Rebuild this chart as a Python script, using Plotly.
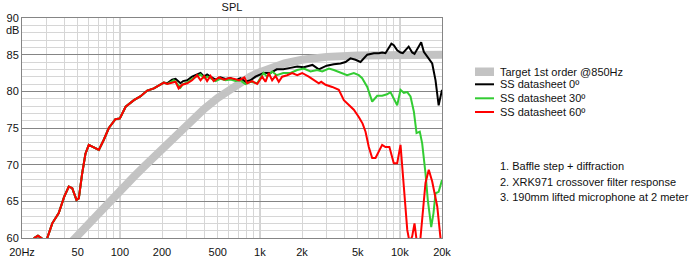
import plotly.graph_objects as go

# ---------------- data ----------------
target_f = [40, 50, 60, 70, 80, 100, 125, 150, 200, 250, 300, 400, 500, 600, 700,
            850, 1000, 1200, 1500, 2000, 3000, 5000, 10000, 20000]
target_db = [58.4, 60.4, 62.0, 63.3, 64.4, 66.4, 68.3, 69.8, 72.2, 74.0, 75.4, 77.6,
             79.1, 80.2, 81.1, 82.0, 82.6, 83.2, 83.8, 84.3, 84.7, 84.9, 85.0, 85.0]

low_f = [20, 23, 24.5, 26, 27.5, 29, 30.3, 32.9, 36.6, 40, 43.2, 45.7, 49.0, 50.9,
         53.8, 56.8, 60.0, 65.2, 70.8, 76.8, 83.4, 93.0, 100, 110, 126, 140, 157,
         175, 195, 206]
low_db = [57.5, 59.0, 60.0, 60.3, 60.0, 59.6, 60.0, 62.0, 63.4, 65.6, 67.0, 66.8,
          65.2, 65.4, 68.8, 71.5, 72.7, 72.4, 72.0, 73.4, 75.0, 76.2, 76.3, 77.9,
          78.8, 79.3, 80.1, 80.4, 80.9, 81.2]

f0_hi = [218, 236, 250, 271, 283, 303, 328, 356, 377, 400, 420, 444, 482, 523, 569,
         617, 670, 727, 789, 857, 930, 1063, 1191, 1319, 1470, 1655, 1849, 2060,
         2375, 2636, 3000, 3375, 3769, 4090, 4440, 4820, 5236, 5850, 6520, 7080,
         7474, 7895, 8700, 9050, 9573, 10110, 10500, 11560, 12249, 12725, 14200,
         14830, 16090, 17024, 17980, 18930, 20000]
db0_hi = [81.1, 81.6, 81.7, 81.1, 81.4, 81.5, 82.0, 82.3, 82.5, 82.0, 82.3, 82.0,
          81.6, 81.9, 81.7, 81.8, 81.5, 81.8, 81.3, 81.5, 82.0, 82.5, 82.5, 83.0,
          83.0, 83.2, 83.4, 83.3, 83.6, 83.0, 83.5, 83.7, 83.8, 84.0, 84.5, 84.3,
          84.0, 85.0, 85.2, 85.2, 85.3, 85.2, 86.5, 86.3, 85.6, 85.3, 85.2, 86.1,
          85.3, 85.1, 86.7, 85.4, 84.5, 83.8, 81.5, 78.1, 80.2]

f30_hi = [218, 236, 243, 250, 271, 283, 303, 328, 356, 377, 400, 420, 444, 482, 523,
          569, 617, 670, 727, 789, 857, 957, 1063, 1125, 1224, 1319, 1470, 1655,
          1849, 2060, 2300, 2570, 2790, 3115, 3375, 3769, 4200, 4690, 5090, 5380,
          5850, 6343, 6890, 7474, 8100, 8570, 9050, 9573, 10110, 10676, 11293,
          11915, 12600, 13160, 13880, 14433, 15247, 15830, 16750, 17390, 17980,
          18930, 20000]
db30_hi = [81.0, 81.4, 81.5, 81.3, 80.5, 81.0, 81.2, 81.7, 82.1, 82.3, 81.8, 82.0,
           81.8, 81.4, 81.7, 81.5, 81.6, 81.4, 81.5, 81.0, 81.3, 81.1, 82.5, 82.0,
           82.7, 82.2, 82.5, 82.5, 82.9, 83.1, 82.7, 82.9, 82.7, 83.1, 82.9, 82.5,
           82.2, 82.5, 82.2, 81.8, 80.6, 78.6, 79.4, 79.4, 79.6, 79.9, 79.0, 78.1,
           80.2, 79.8, 79.9, 79.3, 77.2, 74.3, 74.5, 72.9, 68.8, 65.2, 61.5, 63.4,
           66.1, 66.3, 67.9]

f60_hi = [218, 236, 250, 263, 279, 303, 328, 356, 377, 400, 420, 444, 468, 510, 555,
          605, 660, 710, 775, 812, 881, 957, 1038, 1097, 1157, 1224, 1293, 1365,
          1443, 1568, 1701, 1849, 2005, 2235, 2429, 2636, 2745, 2945, 3287, 3664,
          3980, 4319, 4689, 5088, 5419, 5686, 6000, 6343, 6700, 7474, 7895, 8420,
          9050, 9573, 10110, 10676, 11293, 11716, 12249, 12725, 13309, 13805,
          14433, 15247, 16090, 17024, 18498, 19600, 20000]
db60_hi = [81.0, 81.2, 81.3, 80.4, 80.9, 81.1, 81.5, 82.2, 81.5, 82.1, 81.4, 82.1,
           81.4, 81.9, 81.6, 81.8, 81.7, 81.5, 81.9, 81.1, 81.4, 81.0, 82.0, 81.3,
           82.5, 81.5, 82.1, 81.3, 82.0, 82.2, 82.5, 82.2, 82.5, 82.0, 81.6, 81.1,
           81.3, 80.9, 80.6, 80.2, 78.8, 78.1, 77.5, 76.5, 75.6, 74.5, 72.4, 70.9,
           70.9, 72.7, 72.4, 72.4, 70.2, 70.2, 72.7, 67.0, 61.1, 59.5, 60.2, 62.0,
           59.0, 58.5, 62.5, 67.5, 69.3, 67.7, 64.3, 60.0, 58.0]

x_tickvals = [20, 50, 100, 200, 500, 1000, 2000, 5000, 10000, 20000]
x_ticktext = ["20Hz", "50", "100", "200", "500", "1k", "2k", "5k", "10k", "20k"]
x_minor = [30, 40, 60, 70, 80, 90, 300, 400, 600, 700, 800, 900,
           3000, 4000, 6000, 7000, 8000, 9000]
x_major_lines = [100, 1000, 10000]
y_tickvals = [60, 65, 70, 75, 80, 85, 90]

series_names = ["Target 1st order @850Hz", "SS datasheet 0º",
                "SS datasheet 30º", "SS datasheet 60º"]
notes = ["1. Baffle step + diffraction",
         "2. XRK971 crossover filter response",
         "3. 190mm lifted microphone at 2 meter"]

# ---------------- styling ----------------
FONT = "Liberation Sans, Arial, sans-serif"
DARK = "#858585"
LIGHT = "#d6d6d6"
W, H = 690, 257
L, R, T, B = 22, 248, 18, 19
PW, PH = W - L - R, H - T - B


def px_x(px):
    return (px - L) / PW


def px_y(py):
    return (H - B - py) / PH


fig = go.Figure()
fig.add_trace(go.Scatter(x=target_f, y=target_db, mode="lines",
                         line=dict(color="#c3c3c3", width=8),
                         name=series_names[0], showlegend=False))
fig.add_trace(go.Scatter(x=low_f + f0_hi, y=low_db + db0_hi, mode="lines",
                         line=dict(color="#000000", width=2),
                         name=series_names[1], showlegend=False))
fig.add_trace(go.Scatter(x=low_f + f30_hi, y=low_db + db30_hi, mode="lines",
                         line=dict(color="#33cc33", width=2),
                         name=series_names[2], showlegend=False))
fig.add_trace(go.Scatter(x=low_f + f60_hi, y=low_db + db60_hi, mode="lines",
                         line=dict(color="#ff0000", width=2),
                         name=series_names[3], showlegend=False))

shapes = []
for v in x_major_lines:
    shapes.append(dict(type="line", xref="x", yref="paper", x0=v, x1=v, y0=0, y1=1,
                       line=dict(color=DARK, width=1), layer="between"))

# manual legend
sym_x0, sym_x1 = px_x(475), px_x(494)
shapes.append(dict(type="rect", xref="paper", yref="paper", x0=sym_x0, x1=sym_x1,
                   y0=px_y(76), y1=px_y(67.5), fillcolor="#c3c3c3",
                   line=dict(width=0)))
leg_line_y = [84.3, 98.3, 112]
leg_colors = ["#000000", "#33cc33", "#ff0000"]
for yy, c in zip(leg_line_y, leg_colors):
    shapes.append(dict(type="line", xref="paper", yref="paper", x0=sym_x0, x1=sym_x1,
                       y0=px_y(yy), y1=px_y(yy), line=dict(color=c, width=2)))

annotations = []
leg_text_y = [71.7, 84.3, 98.3, 111.7]
for name, yy in zip(series_names, leg_text_y):
    annotations.append(dict(text=name, xref="paper", yref="paper", x=px_x(497.5),
                            y=px_y(yy), xanchor="left", yanchor="middle",
                            showarrow=False, font=dict(size=11, color="#111111",
                                                       family=FONT)))
for t, yy in zip(notes, [166, 181.7, 196.7]):
    annotations.append(dict(text=t, xref="paper", yref="paper", x=px_x(497.5),
                            y=px_y(yy), xanchor="left", yanchor="middle",
                            showarrow=False, font=dict(size=11, color="#111111",
                                                       family=FONT)))
annotations.append(dict(text="dB", xref="paper", yref="paper", x=px_x(19),
                        y=px_y(30.5), xanchor="right", yanchor="middle",
                        showarrow=False, borderpad=0, borderwidth=0,
                        font=dict(size=11, color="#111111", family=FONT)))

fig.update_layout(
    width=W, height=H,
    margin=dict(l=L, r=R, t=T, b=B, pad=0, autoexpand=False),
    paper_bgcolor="white", plot_bgcolor="white",
    font=dict(family=FONT, size=11, color="#111111"),
    title=dict(text="SPL", x=(L + PW / 2) / W, xanchor="center",
               y=1 - 7 / H, yanchor="middle", yref="container",
               font=dict(size=11, family=FONT, color="#111111")),
    showlegend=False,
    shapes=shapes,
    annotations=annotations,
    xaxis=dict(type="log", range=[1.30103, 4.30103], automargin=False,
               tickmode="array", tickvals=x_tickvals, ticktext=x_ticktext,
               showgrid=True, gridcolor=LIGHT, gridwidth=1,
               minor=dict(tickmode="array", tickvals=x_minor, showgrid=True,
                          gridcolor=LIGHT, gridwidth=1),
               showline=True, linecolor=DARK, linewidth=1, mirror=True,
               ticks="", ticklabelstandoff=4, zeroline=False,
               tickfont=dict(size=11, family=FONT)),
    yaxis=dict(range=[60, 90], tickmode="array", tickvals=y_tickvals,
               automargin=False,
               showgrid=True, gridcolor=DARK, gridwidth=1,
               minor=dict(dtick=1, tick0=60, showgrid=True, gridcolor=LIGHT,
                          gridwidth=1),
               showline=True, linecolor=DARK, linewidth=1, mirror=True,
               ticks="", zeroline=False, tickfont=dict(size=11, family=FONT)),
)

fig.write_html("out.html")
